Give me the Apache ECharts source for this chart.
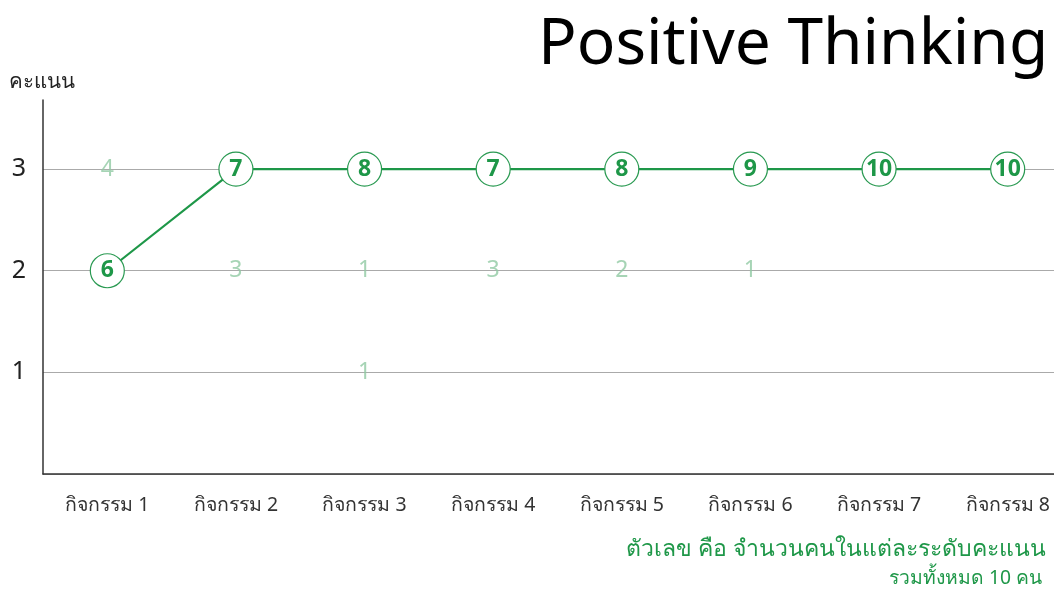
<!DOCTYPE html>
<html>
<head>
<meta charset="utf-8">
<script src="https://cdn.jsdelivr.net/npm/echarts@6/dist/echarts.min.js"></script>
<style>
  html, body { margin: 0; padding: 0; background: #fff; }
  #chart { width: 1054px; height: 593px; }
</style>
</head>
<body>
<div id="chart"></div>
<script>
// Activities along the x axis
const categories = ['กิจกรรม 1', 'กิจกรรม 2', 'กิจกรรม 3', 'กิจกรรม 4', 'กิจกรรม 5', 'กิจกรรม 6', 'กิจกรรม 7', 'กิจกรรม 8'];
// Most common score per activity and how many people gave it
const mainScore = [2, 3, 3, 3, 3, 3, 3, 3];
const mainCount = [6, 7, 8, 7, 8, 9, 10, 10];
// Remaining score groups: activity index, score, head count
const otherCat = [0, 1, 2, 2, 3, 4, 5];
const otherScore = [3, 2, 2, 1, 2, 2, 2];
const otherCount = [4, 3, 1, 1, 3, 2, 1];
// Y axis tick values
const yTicks = [1, 2, 3];

const GREEN = '#1e9748';
const FADED = '#90c9a3';
const FONT = '"Noto Sans", "Open Sans", sans-serif';

const chart = echarts.init(document.getElementById('chart'));

const mainData = mainScore.map((v, i) => ({ value: v, count: mainCount[i] }));
const otherData = otherCat.map((c, i) => ({ value: [c, otherScore[i]], count: otherCount[i] }));

chart.setOption({
  animation: false,
  backgroundColor: '#fff',
  title: {
    text: 'Positive Thinking',
    left: 533,
    top: 9,
    textStyle: { fontFamily: FONT, fontSize: 64, fontWeight: 'normal', color: '#000' }
  },
  // the plot runs past the right edge, so the last band is cut off
  grid: { left: 43, top: 100, bottom: 119, width: 1029, containLabel: false, outerBoundsMode: 'none' },
  xAxis: {
    type: 'category',
    data: categories,
    boundaryGap: true,
    axisLine: { lineStyle: { color: '#333', width: 1.5 } },
    axisTick: { show: false },
    axisLabel: { color: '#333', fontSize: 19.5, fontFamily: FONT, margin: 21 }
  },
  yAxis: {
    type: 'value',
    min: 0,
    max: 3.68,
    interval: 1,
    name: 'คะแนน',
    nameLocation: 'end',
    nameGap: 7,
    nameTextStyle: { color: '#222', fontSize: 20.5, fontFamily: FONT, align: 'left', padding: [0, 0, 0, -34] },
    axisLine: { show: true, lineStyle: { color: '#333', width: 1.5 } },
    axisTick: { show: false },
    axisLabel: {
      color: '#222', fontSize: 25, fontFamily: FONT, margin: 17,
      formatter: v => (yTicks.indexOf(v) >= 0 ? String(v) : '')
    },
    splitLine: { lineStyle: { color: ['#aaa', '#aaa', '#aaa', '#aaa', 'rgba(0,0,0,0)'], width: 1.2 } }
  },
  series: [
    {
      type: 'scatter',
      data: otherData,
      symbolSize: 0,
      z: 1,
      label: {
        show: true,
        position: 'inside',
        formatter: p => String(p.data.count),
        color: FADED,
        fontSize: 23,
        fontFamily: FONT
      }
    },
    {
      type: 'line',
      data: mainData,
      symbol: 'circle',
      symbolSize: 34,
      z: 3,
      lineStyle: { color: GREEN, width: 2.2 },
      itemStyle: { color: '#fff', borderColor: '#2a9a52', borderWidth: 1.2 },
      label: {
        show: true,
        position: 'inside',
        formatter: p => String(p.data.count),
        color: GREEN,
        fontSize: 23,
        fontWeight: 'bold',
        fontFamily: FONT
      }
    }
  ],
  graphic: [
    {
      type: 'text',
      right: 8,
      top: 538,
      style: { text: 'ตัวเลข คือ จำนวนคนในแต่ละระดับคะแนน', fill: GREEN, fontSize: 23, fontFamily: FONT, textAlign: 'right' }
    },
    {
      type: 'text',
      right: 12,
      top: 569,
      style: { text: 'รวมทั้งหมด 10 คน', fill: GREEN, fontSize: 19.3, fontFamily: FONT, textAlign: 'right' }
    }
  ]
});
</script>
</body>
</html>
